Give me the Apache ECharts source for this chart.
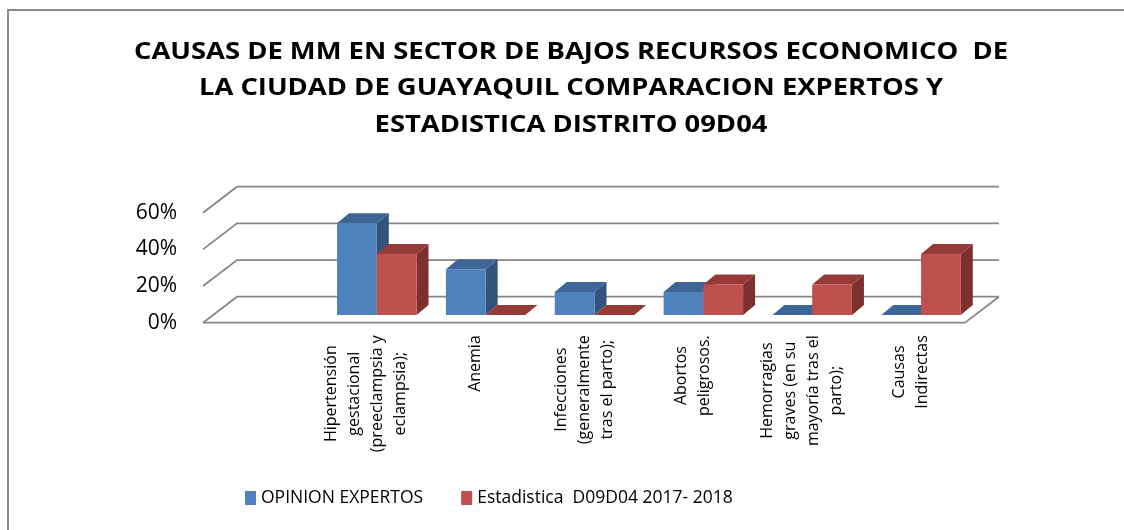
<!DOCTYPE html>
<html>
<head>
<meta charset="utf-8">
<script src="https://cdn.jsdelivr.net/npm/echarts@6/dist/echarts.min.js"></script>
<style>
  html, body { margin: 0; padding: 0; background: #fff; }
  #main { width: 1124px; height: 530px; }
</style>
</head>
<body>
<div id="main"></div>
<script>
// datos
const categories = [
    'Hipertensión\ngestacional\n(preeclampsia y\neclampsia);',
    'Anemia',
    'Infecciones\n(generalmente\ntras el parto);',
    'Abortos\npeligrosos.',
    'Hemorragias\ngraves (en su\nmayoría tras el\nparto);',
    'Causas\nIndirectas'
];
const expertos = [50, 25, 12.5, 12.5, 0, 0];
const estadistica = [33.3, 0, 0, 16.7, 16.7, 33.3];
const yTicks = [0, 20, 40, 60];
const seriesNames = ['OPINION EXPERTOS', 'Estadistica  D09D04 2017- 2018'];
const titleText = 'CAUSAS DE MM EN SECTOR DE BAJOS RECURSOS ECONOMICO  DE\nLA CIUDAD DE GUAYAQUIL COMPARACION EXPERTOS Y\nESTADISTICA DISTRITO 09D04';

// geometria 3D (px)
const X_MIN = -1.5, X_MAX = 5.5;
const WALL = [34, -26];      // profundidad del piso / paredes
const FRONT = [10.5, -7.7];  // cara frontal de las barras respecto al piso
const DEPTH = [12, -10];     // profundidad de cada barra
const BAR_W = 0.365;
const FONT = '"Open Sans", "Noto Sans", sans-serif';
const LABEL_SIZE = 16;

const colors = [
    { front: '#4F81BD', top: '#3D6697', side: '#32547C' },
    { front: '#C0504D', top: '#953A37', side: '#7E302E' }
];

const measureCtx = document.createElement('canvas').getContext('2d');
function blockLen(text) {
    measureCtx.font = LABEL_SIZE + 'px "Open Sans"';
    return Math.max(...text.split('\n').map(l => measureCtx.measureText(l).width));
}

function wallItem(params, api) {
    const v = api.value(1);
    const a = api.coord([X_MIN, v]);
    const b = api.coord([X_MAX, v]);
    const line = { stroke: '#878787', lineWidth: 1.8, fill: null };
    const children = [{
        type: 'polyline',
        shape: { points: [a, [a[0] + WALL[0], a[1] + WALL[1]], [b[0] + WALL[0], b[1] + WALL[1]]] },
        style: line
    }];
    if (v === 0) {
        children.push({
            type: 'polyline',
            shape: { points: [a, b, [b[0] + WALL[0], b[1] + WALL[1]]] },
            style: line
        });
    }
    return { type: 'group', children };
}

function barItem(s) {
    return function (params, api) {
        const i = api.value(0), v = api.value(1);
        const base = api.coord([i, 0]);
        const top = api.coord([i, v]);
        const w = api.size([1, 0])[0] * BAR_W;
        const x0 = base[0] + FRONT[0] + (s - 1) * w;
        const x1 = x0 + w;
        const yb = base[1] + FRONT[1];
        const yt = top[1] + FRONT[1];
        const c = colors[s];
        return {
            type: 'group',
            children: [
                { type: 'polygon', shape: { points: [[x1, yb], [x1, yt], [x1 + DEPTH[0], yt + DEPTH[1]], [x1 + DEPTH[0], yb + DEPTH[1]]] }, style: { fill: c.side } },
                { type: 'polygon', shape: { points: [[x0, yt], [x1, yt], [x1 + DEPTH[0], yt + DEPTH[1]], [x0 + DEPTH[0], yt + DEPTH[1]]] }, style: { fill: c.top } },
                { type: 'rect', shape: { x: x0, y: yt, width: w, height: yb - yt }, style: { fill: c.front } }
            ]
        };
    };
}

function labelItem(params, api) {
    const i = api.value(0);
    const p = api.coord([i, 0]);
    const txt = categories[i];
    return {
        type: 'text',
        x: p[0],
        y: p[1] + 12.5 + blockLen(txt) / 2,
        rotation: Math.PI / 2,
        style: {
            text: txt,
            fill: '#000',
            font: LABEL_SIZE + 'px ' + FONT,
            align: 'center',
            verticalAlign: 'middle',
            lineHeight: 23
        }
    };
}

const chart = echarts.init(document.getElementById('main'));
chart.setOption({
    animation: false,
    backgroundColor: '#fff',
    graphic: [
        {
            type: 'rect',
            shape: { x: 8, y: 10, width: 1140, height: 540 },
            style: { stroke: '#8a8a8a', lineWidth: 2, fill: null },
            silent: true
        },
        {
            // titulo: el original esta estirado en horizontal
            type: 'text',
            x: 571,
            y: 34,
            scaleX: 1.19,
            silent: true,
            style: {
                text: titleText,
                fill: '#000',
                font: 'bold 23px ' + FONT,
                align: 'center',
                verticalAlign: 'top',
                lineHeight: 36.5
            }
        }
    ],
    legend: {
        data: seriesNames,
        left: 245,
        top: 489,
        padding: 0,
        icon: 'rect',
        itemWidth: 11,
        itemHeight: 14,
        itemGap: 38,
        textStyle: { fontFamily: FONT, fontSize: 17.5, color: '#000' }
    },
    grid: { left: 203, right: 159, top: 212.7, bottom: 207.3 },
    xAxis: { type: 'value', min: X_MIN, max: X_MAX, show: false },
    yAxis: {
        type: 'value', min: 0, max: 60, interval: 20,
        axisLine: { show: false }, axisTick: { show: false }, splitLine: { show: false },
        axisLabel: { formatter: '{value}%', margin: 26, fontFamily: FONT, fontSize: 21, color: '#000' }
    },
    series: [
        { type: 'custom', name: 'walls', silent: true, renderItem: wallItem, data: yTicks.map(v => [0, v]) },
        { type: 'custom', name: seriesNames[0], silent: true, itemStyle: { color: colors[0].front }, renderItem: barItem(0), data: expertos.map((v, i) => [i, v]) },
        { type: 'custom', name: seriesNames[1], silent: true, itemStyle: { color: colors[1].front }, renderItem: barItem(1), data: estadistica.map((v, i) => [i, v]) },
        { type: 'custom', name: 'labels', silent: true, renderItem: labelItem, data: categories.map((c, i) => [i, 0]) }
    ]
});
</script>
</body>
</html>
